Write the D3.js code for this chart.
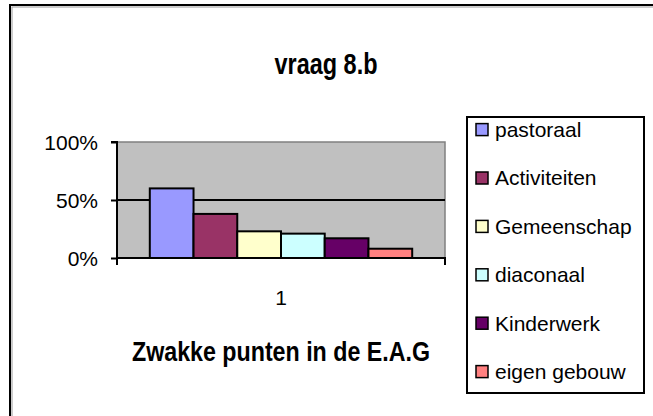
<!DOCTYPE html>
<html><head><meta charset="utf-8">
<script src="https://cdn.jsdelivr.net/npm/d3@7"></script>
<style>body{margin:0;background:#fff}svg{display:block}</style>
</head><body>
<script>
const title = "vraag 8.b";
const categories = ["1"];
const seriesNames = ["pastoraal","Activiteiten","Gemeenschap","diaconaal","Kinderwerk","eigen gebouw"];
const seriesValues = [0.60, 0.38, 0.23, 0.21, 0.17, 0.08];
const seriesColors = ["#9999FF","#993366","#FFFFCC","#CCFFFF","#660066","#FF8080"];
const yTicks = [0, 0.5, 1];
const xTitle = "Zwakke punten in de E.A.G";

const W = 653, H = 416;
const svg = d3.select("body").append("svg").attr("width", W).attr("height", H);
const font = "Arial, 'Liberation Sans', sans-serif";

// outer frame
svg.append("rect").attr("x", 10).attr("y", 5).attr("width", 700).attr("height", 500)
  .attr("fill", "#fff").attr("stroke", "#000").attr("stroke-width", 2);
svg.append("rect").attr("x", 12).attr("y", 7).attr("width", 700).attr("height", 500)
  .attr("fill", "none").attr("stroke", "#9a9a9a").attr("stroke-width", 1);

const plot = {l: 117, t: 142, r: 445, b: 258};
const y = d3.scaleLinear().domain([0, 1]).range([plot.b, plot.t]);
const x0 = d3.scaleBand().domain(categories).range([plot.l, plot.r]).paddingInner(0).paddingOuter(0);
const x1 = d3.scaleBand().domain(seriesNames).range([0, x0.bandwidth()])
  .paddingInner(0).paddingOuter(0.75);

// plot background
svg.append("rect").attr("x", plot.l).attr("y", plot.t).attr("width", plot.r - plot.l).attr("height", plot.b - plot.t)
  .attr("fill", "#C0C0C0").attr("stroke", "#808080").attr("stroke-width", 1.5);

// gridlines
svg.append("g").selectAll("line").data(yTicks.filter(d => d > 0 && d < 1)).join("line")
  .attr("x1", plot.l).attr("x2", plot.r).attr("y1", d => y(d)).attr("y2", d => y(d))
  .attr("stroke", "#000").attr("stroke-width", 2);

// bars
const g = svg.append("g");
categories.forEach(c => {
  g.selectAll("rect.bar").data(seriesNames).join("rect").attr("class", "bar")
    .attr("x", (d) => x0(c) + x1(d))
    .attr("width", x1.bandwidth())
    .attr("y", (d, i) => y(seriesValues[i]))
    .attr("height", (d, i) => y(0) - y(seriesValues[i]))
    .attr("fill", (d, i) => seriesColors[i])
    .attr("stroke", "#000").attr("stroke-width", 2);
});

// y axis
const yAxis = d3.axisLeft(y).tickValues(yTicks).tickFormat(d3.format(".0%")).tickSize(6).tickPadding(13);
const ya = svg.append("g").attr("transform", `translate(${plot.l},0)`).call(yAxis);
ya.select(".domain").attr("stroke", "#000").attr("stroke-width", 2).attr("d", `M-6,${plot.t}H0V${plot.b + 7}`);
ya.selectAll(".tick line").attr("stroke", "#000").attr("stroke-width", 2);
ya.selectAll(".tick text").attr("font-family", font).attr("font-size", 21).attr("fill", "#000").attr("dy", "0.35em");

// x axis
const xa = svg.append("g").attr("transform", `translate(0,${plot.b})`)
  .call(d3.axisBottom(x0).tickSize(0).tickPadding(32));
xa.select(".domain").attr("stroke", "#000").attr("stroke-width", 2).attr("d", `M${plot.l},7V0H${plot.r}V7`);
xa.selectAll(".tick text").attr("font-family", font).attr("font-size", 21).attr("fill", "#000");

// titles
svg.append("text").attr("x", 326).attr("y", 74).attr("text-anchor", "middle")
  .attr("font-family", font).attr("font-weight", "bold").attr("font-size", 29)
  .attr("textLength", 103).attr("lengthAdjust", "spacingAndGlyphs")
  .text(title);
svg.append("text").attr("x", 281).attr("y", 361).attr("text-anchor", "middle")
  .attr("font-family", font).attr("font-weight", "bold").attr("font-size", 27)
  .attr("textLength", 298).attr("lengthAdjust", "spacingAndGlyphs")
  .text(xTitle);

// legend
const leg = svg.append("g");
leg.append("rect").attr("x", 467).attr("y", 117).attr("width", 177).attr("height", 276)
  .attr("fill", "#fff").attr("stroke", "#000").attr("stroke-width", 2);
const items = leg.selectAll("g.item").data(seriesNames).join("g").attr("class", "item")
  .attr("transform", (d, i) => `translate(476,${129.6 + i * 48.4})`);
items.append("rect").attr("x", 0).attr("y", -6).attr("width", 12).attr("height", 12)
  .attr("fill", (d, i) => seriesColors[i]).attr("stroke", "#000").attr("stroke-width", 1.5);
items.append("text").attr("x", 19).attr("y", 0).attr("dy", "0.35em")
  .attr("font-family", font).attr("font-size", 21).attr("fill", "#000").text(d => d);
</script>
</body></html>
